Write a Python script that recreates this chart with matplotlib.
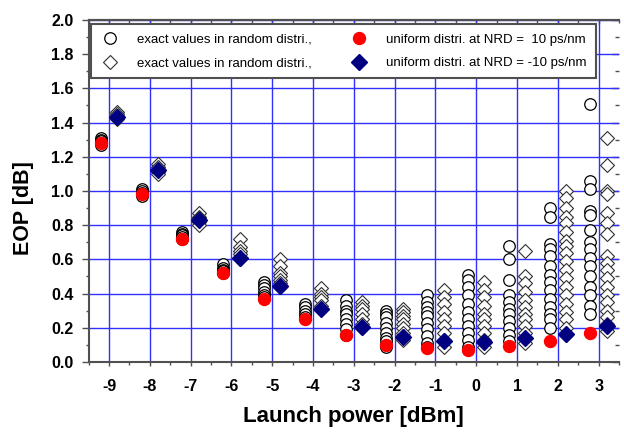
import numpy as np
import matplotlib.pyplot as plt
from matplotlib.lines import Line2D
from matplotlib.ticker import MultipleLocator

plt.rcParams['font.family'] = ['Liberation Sans', 'DejaVu Sans']
plt.rcParams['axes.unicode_minus'] = False

# launch power levels [dBm]
power = [-9, -8, -7, -6, -5, -4, -3, -2, -1, 0, 1, 2, 3]

# exact EOP values for the random distributions (one list per power level)
circ_exact = [
    [1.31, 1.30, 1.29, 1.28, 1.27],
    [1.01, 1.00, 0.99, 0.98, 0.97],
    [0.76, 0.75, 0.74, 0.73, 0.72],
    [0.57, 0.55, 0.54, 0.53, 0.52],
    [0.47, 0.45, 0.43, 0.41, 0.39, 0.38],
    [0.34, 0.32, 0.30, 0.28, 0.26],
    [0.36, 0.33, 0.30, 0.28, 0.25, 0.22, 0.19, 0.16],
    [0.30, 0.28, 0.26, 0.23, 0.20, 0.17, 0.14, 0.12, 0.10, 0.09],
    [0.39, 0.35, 0.32, 0.29, 0.27, 0.23, 0.19, 0.15, 0.11, 0.09],
    [0.51, 0.48, 0.44, 0.39, 0.34, 0.29, 0.25, 0.21, 0.17, 0.13, 0.09],
    [0.68, 0.60, 0.48, 0.39, 0.35, 0.31, 0.28, 0.24, 0.20, 0.16, 0.12],
    [0.90, 0.85, 0.69, 0.66, 0.62, 0.56, 0.51, 0.47, 0.42, 0.37, 0.32, 0.28, 0.25, 0.20],
    [1.51, 1.06, 1.01, 0.88, 0.86, 0.77, 0.70, 0.66, 0.61, 0.56, 0.50, 0.44, 0.39, 0.33, 0.28],
]
diam_exact = [
    [1.46, 1.45, 1.44, 1.43, 1.42],
    [1.16, 1.14, 1.13, 1.11, 1.10],
    [0.87, 0.85, 0.84, 0.82, 0.80],
    [0.72, 0.67, 0.65, 0.63, 0.61, 0.60],
    [0.60, 0.56, 0.52, 0.50, 0.48, 0.46, 0.44],
    [0.43, 0.40, 0.38, 0.36, 0.33, 0.31],
    [0.35, 0.33, 0.31, 0.28, 0.25, 0.22, 0.20],
    [0.31, 0.29, 0.27, 0.25, 0.22, 0.20, 0.17, 0.15, 0.13],
    [0.42, 0.38, 0.34, 0.29, 0.25, 0.21, 0.17, 0.13, 0.09],
    [0.47, 0.42, 0.38, 0.33, 0.28, 0.25, 0.21, 0.17, 0.13, 0.09],
    [0.65, 0.50, 0.46, 0.41, 0.36, 0.32, 0.28, 0.25, 0.21, 0.17, 0.11],
    [1.00, 0.96, 0.90, 0.85, 0.81, 0.76, 0.71, 0.68, 0.64, 0.59, 0.54, 0.49,
     0.44, 0.39, 0.34, 0.29, 0.25, 0.20, 0.16],
    [1.31, 1.15, 1.00, 0.98, 0.87, 0.81, 0.75, 0.62, 0.58, 0.54, 0.49, 0.44,
     0.39, 0.35, 0.30, 0.26, 0.22, 0.18],
]

# uniform distribution results
nrd_pos10 = [1.28, 0.98, 0.72, 0.52, 0.37, 0.25, 0.155, 0.10, 0.08, 0.07, 0.095, 0.125, 0.17]
nrd_neg10 = [1.43, 1.12, 0.83, 0.61, 0.445, 0.31, 0.205, 0.148, 0.123, 0.115, 0.138, 0.165, 0.21]

shift = 0.2

fig = plt.figure(figsize=(6.24, 4.34), dpi=100)
ax = fig.add_axes([0.142, 0.166, 0.850, 0.788])

for p, cv, dv in zip(power, circ_exact, diam_exact):
    ax.plot([p - shift] * len(cv), cv, 'o', ms=8.3, mfc='white', mec='black',
            mew=0.9, zorder=3, clip_on=False)
    ax.plot([p + shift] * len(dv), dv, 'D', ms=7.6, mfc='white', mec='#303030',
            mew=0.8, zorder=3, clip_on=False)

ax.plot(np.array(power) - shift, nrd_pos10, 'o', ms=8.6, color='#ff0000',
        mec='#ff0000', ls='none', zorder=4)
ax.plot(np.array(power) + shift, nrd_neg10, 'D', ms=8, color='#000080',
        mec='#000080', ls='none', zorder=4)

ax.set_xlim(-9.5, 3.5)
ax.set_ylim(0, 2.0)
ax.xaxis.set_major_locator(MultipleLocator(1))
ax.xaxis.set_minor_locator(MultipleLocator(0.5))
ax.yaxis.set_minor_locator(MultipleLocator(0.1))
ax.set_yticks(np.arange(0, 2.01, 0.2))
ax.set_yticklabels([f'{v:.1f}' for v in np.arange(0, 2.01, 0.2)])
ax.grid(True, which='major', color='#3030ff', lw=1.0, zorder=0)
ax.set_axisbelow(True)

spine_c = '#505050'
for s in ['left', 'bottom', 'top']:
    ax.spines[s].set_color(spine_c)
    ax.spines[s].set_linewidth(1.5)
ax.spines['right'].set_visible(False)

ax.tick_params(axis='both', which='both', color=spine_c, width=1.0,
               labelsize=11.5, direction='out')
ax.tick_params(axis='y', which='major', length=5, pad=6)
ax.tick_params(axis='y', which='minor', length=2.5)
ax.tick_params(axis='x', which='major', length=3, pad=9)
ax.tick_params(axis='x', which='minor', length=2.5)
for lab in ax.get_xticklabels() + ax.get_yticklabels():
    lab.set_fontweight('bold')

# mirrored ticks pointing inward on top and right
secx = ax.secondary_xaxis('top')
secx.xaxis.set_major_locator(MultipleLocator(1))
secx.xaxis.set_minor_locator(MultipleLocator(0.5))
secx.tick_params(which='both', direction='in', labeltop=False, color=spine_c, width=1.0)
secx.tick_params(which='major', length=3)
secx.tick_params(which='minor', length=2.5)
secx.spines['top'].set_color(spine_c)
secx.spines['top'].set_linewidth(1.5)

secy = ax.secondary_yaxis('right')
secy.yaxis.set_major_locator(MultipleLocator(0.2))
secy.yaxis.set_minor_locator(MultipleLocator(0.1))
secy.tick_params(which='both', direction='in', labelright=False, color=spine_c, width=1.0)
secy.tick_params(which='major', length=5)
secy.tick_params(which='minor', length=3)
secy.spines['right'].set_visible(False)

ax.set_xlabel('Launch power [dBm]', fontsize=16, fontweight='bold', labelpad=9)
ax.set_ylabel('EOP [dB]', fontsize=15.5, fontweight='bold')
ax.yaxis.set_label_coords(-0.103, 0.45)

handles = [
    Line2D([], [], marker='o', ls='none', ms=8.3, mfc='white', mec='black', mew=0.9),
    Line2D([], [], marker='D', ls='none', ms=7.6, mfc='white', mec='#303030', mew=0.8),
    Line2D([], [], marker='o', ls='none', ms=8.6, color='#ff0000'),
    Line2D([], [], marker='D', ls='none', ms=8, color='#000080'),
]
labels = ['exact values in random distri.,', 'exact values in random distri.,',
          'uniform distri. at NRD =  10 ps/nm', 'uniform distri. at NRD = -10 ps/nm']
leg = ax.legend(handles, labels, ncol=2, loc='lower left', mode='expand',
                bbox_to_anchor=(0.005, 0.829, 0.952, 0.162), fontsize=9.5,
                frameon=True, fancybox=False, borderaxespad=0, handletextpad=1.3,
                handlelength=1.5, labelspacing=0.85, columnspacing=1.0,
                borderpad=0.7)
leg.get_frame().set_edgecolor(spine_c)
leg.get_frame().set_linewidth(1.5)
leg.get_frame().set_alpha(1)
leg.set_zorder(5)

fig.savefig('out.png', dpi=100)
